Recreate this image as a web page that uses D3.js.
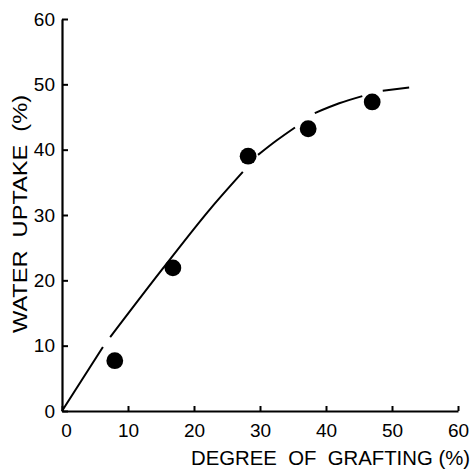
<!DOCTYPE html>
<html>
<head>
<meta charset="utf-8">
<script src="https://cdn.jsdelivr.net/npm/d3@7"></script>
<style>
  html, body { margin: 0; padding: 0; background: #fff; }
  svg { display: block; }
  text { font-family: "Liberation Sans", Arial, sans-serif; fill: #000; }
</style>
</head>
<body>
<svg id="chart" width="476" height="470"></svg>
<script>
// Measured data points: degree of grafting (%) vs water uptake (%)
const grafting = [8, 16.8, 28.2, 37.3, 47.0];
const uptake   = [7.7, 21.9, 39.0, 43.2, 47.3];

// Fitted (hand-drawn) curve, with breaks (null) where the original line is interrupted
const curve = [
  [0, 0], [6.2, 9.8], null,
  [7.3, 11.3], [15.2, 21.7], [22.6, 31.1], [27.4, 36.6], null,
  [29.7, 39.2], [32.5, 41.4], [35.3, 43.4], null,
  [38.3, 45.6], [42, 47.1], [45.5, 48.2], null,
  [48.6, 49.0], [52.6, 49.5]
];

const xTicks = [0, 10, 20, 30, 40, 50, 60];
const yTicks = [0, 10, 20, 30, 40, 50, 60];
const xLabel = "DEGREE  OF  GRAFTING (%)";
const yLabel = "WATER  UPTAKE  (%)";

const svg = d3.select("#chart");
const x = d3.scaleLinear().domain([0, 60]).range([62, 458]);
const y = d3.scaleLinear().domain([0, 60]).range([411, 19]);

// Y axis
const yAxis = svg.append("g")
  .attr("transform", `translate(${x(0)},0)`)
  .call(d3.axisLeft(y).tickValues(yTicks).tickSizeInner(-6).tickSizeOuter(0).tickPadding(7));
// X axis
const xAxis = svg.append("g")
  .attr("transform", `translate(0,${y(0)})`)
  .call(d3.axisBottom(x).tickValues(xTicks).tickSizeInner(-5).tickSizeOuter(0).tickPadding(13));

[yAxis, xAxis].forEach(g => {
  g.select(".domain").attr("stroke", "#000").attr("stroke-width", 2.2);
  g.selectAll(".tick line").attr("stroke", "#000").attr("stroke-width", 2);
  g.selectAll(".tick text").attr("font-size", 19).attr("font-family", '"Liberation Sans", Arial, sans-serif');
});
xAxis.selectAll(".tick text").filter(d => d === 0).attr("dx", 4);

// Curve
const line = d3.line()
  .defined(d => d !== null)
  .x(d => x(d[0]))
  .y(d => y(d[1]))
  .curve(d3.curveMonotoneX);
svg.append("path")
  .datum(curve)
  .attr("fill", "none")
  .attr("stroke", "#000")
  .attr("stroke-width", 2)
  .attr("d", line);

// Points
svg.append("g").selectAll("circle")
  .data(grafting.map((g, i) => [g, uptake[i]]))
  .join("circle")
  .attr("cx", d => x(d[0]))
  .attr("cy", d => y(d[1]))
  .attr("r", 8.4)
  .attr("fill", "#000");

// Axis titles
svg.append("text")
  .attr("x", 191)
  .attr("y", 465)
  .attr("font-size", 20)
  .attr("textLength", 279)
  .attr("lengthAdjust", "spacingAndGlyphs")
  .style("white-space", "pre")
  .text(xLabel);

svg.append("text")
  .attr("transform", "translate(27,214) rotate(-90)")
  .attr("text-anchor", "middle")
  .attr("font-size", 21)
  .attr("textLength", 238)
  .attr("lengthAdjust", "spacingAndGlyphs")
  .style("white-space", "pre")
  .text(yLabel);
</script>
</body>
</html>
